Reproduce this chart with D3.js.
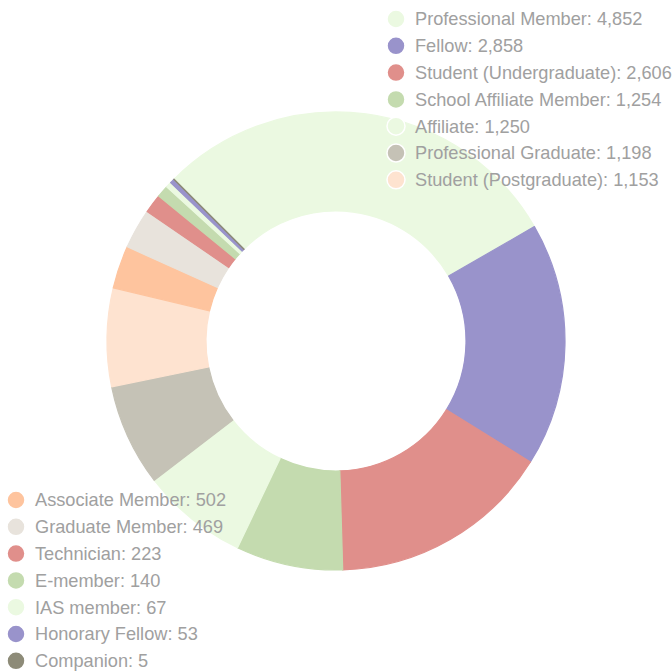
<!DOCTYPE html>
<html>
<head>
<meta charset="utf-8">
<script src="https://cdn.jsdelivr.net/npm/d3@7"></script>
<style>
  html, body { margin: 0; padding: 0; background: #fff; }
  svg { display: block; }
</style>
</head>
<body>
<div id="chart"></div>
<script>
// membership categories, in drawing order
const categories = [
  "Professional Member", "Fellow", "Student (Undergraduate)", "School Affiliate Member",
  "Affiliate", "Professional Graduate", "Student (Postgraduate)", "Associate Member",
  "Graduate Member", "Technician", "E-member", "IAS member", "Honorary Fellow", "Companion"
];
const counts = [4852, 2858, 2606, 1254, 1250, 1198, 1153, 502, 469, 223, 140, 67, 53, 5];
const colours = [
  "#ebf9e1", "#9993cb", "#e08f8b", "#c4dbaf", "#ebf9e1", "#c5c2b6", "#fee3d0",
  "#fec49e", "#e8e3dc", "#e08f8b", "#c4dbaf", "#ebf9e1", "#9993cb", "#8d8b78"
];

const width = 672;
const height = 671;
const cx = 336, cy = 341;
const outerR = 229, innerR = 130;

const data = categories.map((c, i) => ({ name: c, value: counts[i], colour: colours[i] }));

const svg = d3.select("#chart")
  .append("svg")
  .attr("width", width)
  .attr("height", height);

// donut
const pie = d3.pie()
  .value(d => d.value)
  .sort(null)
  .startAngle(-Math.PI / 4)
  .endAngle(-Math.PI / 4 + 2 * Math.PI);

const arc = d3.arc().innerRadius(innerR).outerRadius(outerR);

// slices get a thin border in their own colour, so tiny ones still show
svg.append("g")
  .attr("transform", `translate(${cx},${cy})`)
  .selectAll("path")
  .data(pie(data))
  .enter()
  .append("path")
  .attr("d", arc)
  .attr("fill", d => d.data.colour)
  .attr("stroke", d => d.data.colour)
  .attr("stroke-width", 1.2)
  .attr("stroke-linejoin", "round");

// legends: first 7 top right, rest bottom left
const fmt = d3.format(",");
const rowH = 26.8;

function legend(items, x, y) {
  const g = svg.append("g").attr("transform", `translate(${x},${y})`);
  const row = g.selectAll("g")
    .data(items)
    .enter()
    .append("g")
    .attr("transform", (d, i) => `translate(0,${i * rowH})`);
  row.append("circle")
    .attr("r", 9)
    .attr("fill", d => d.colour)
    .attr("stroke", "#fff")
    .attr("stroke-width", 1.5);
  row.append("text")
    .attr("x", 19)
    .attr("dy", "0.35em")
    .attr("font-family", "'Liberation Sans', Arial, sans-serif")
    .attr("font-size", 18.2)
    .attr("fill", "#a0a0a0")
    .text(d => `${d.name}: ${fmt(d.value)}`);
}

legend(data.slice(0, 7), 396, 19);
legend(data.slice(7), 16, 500);
</script>
</body>
</html>
